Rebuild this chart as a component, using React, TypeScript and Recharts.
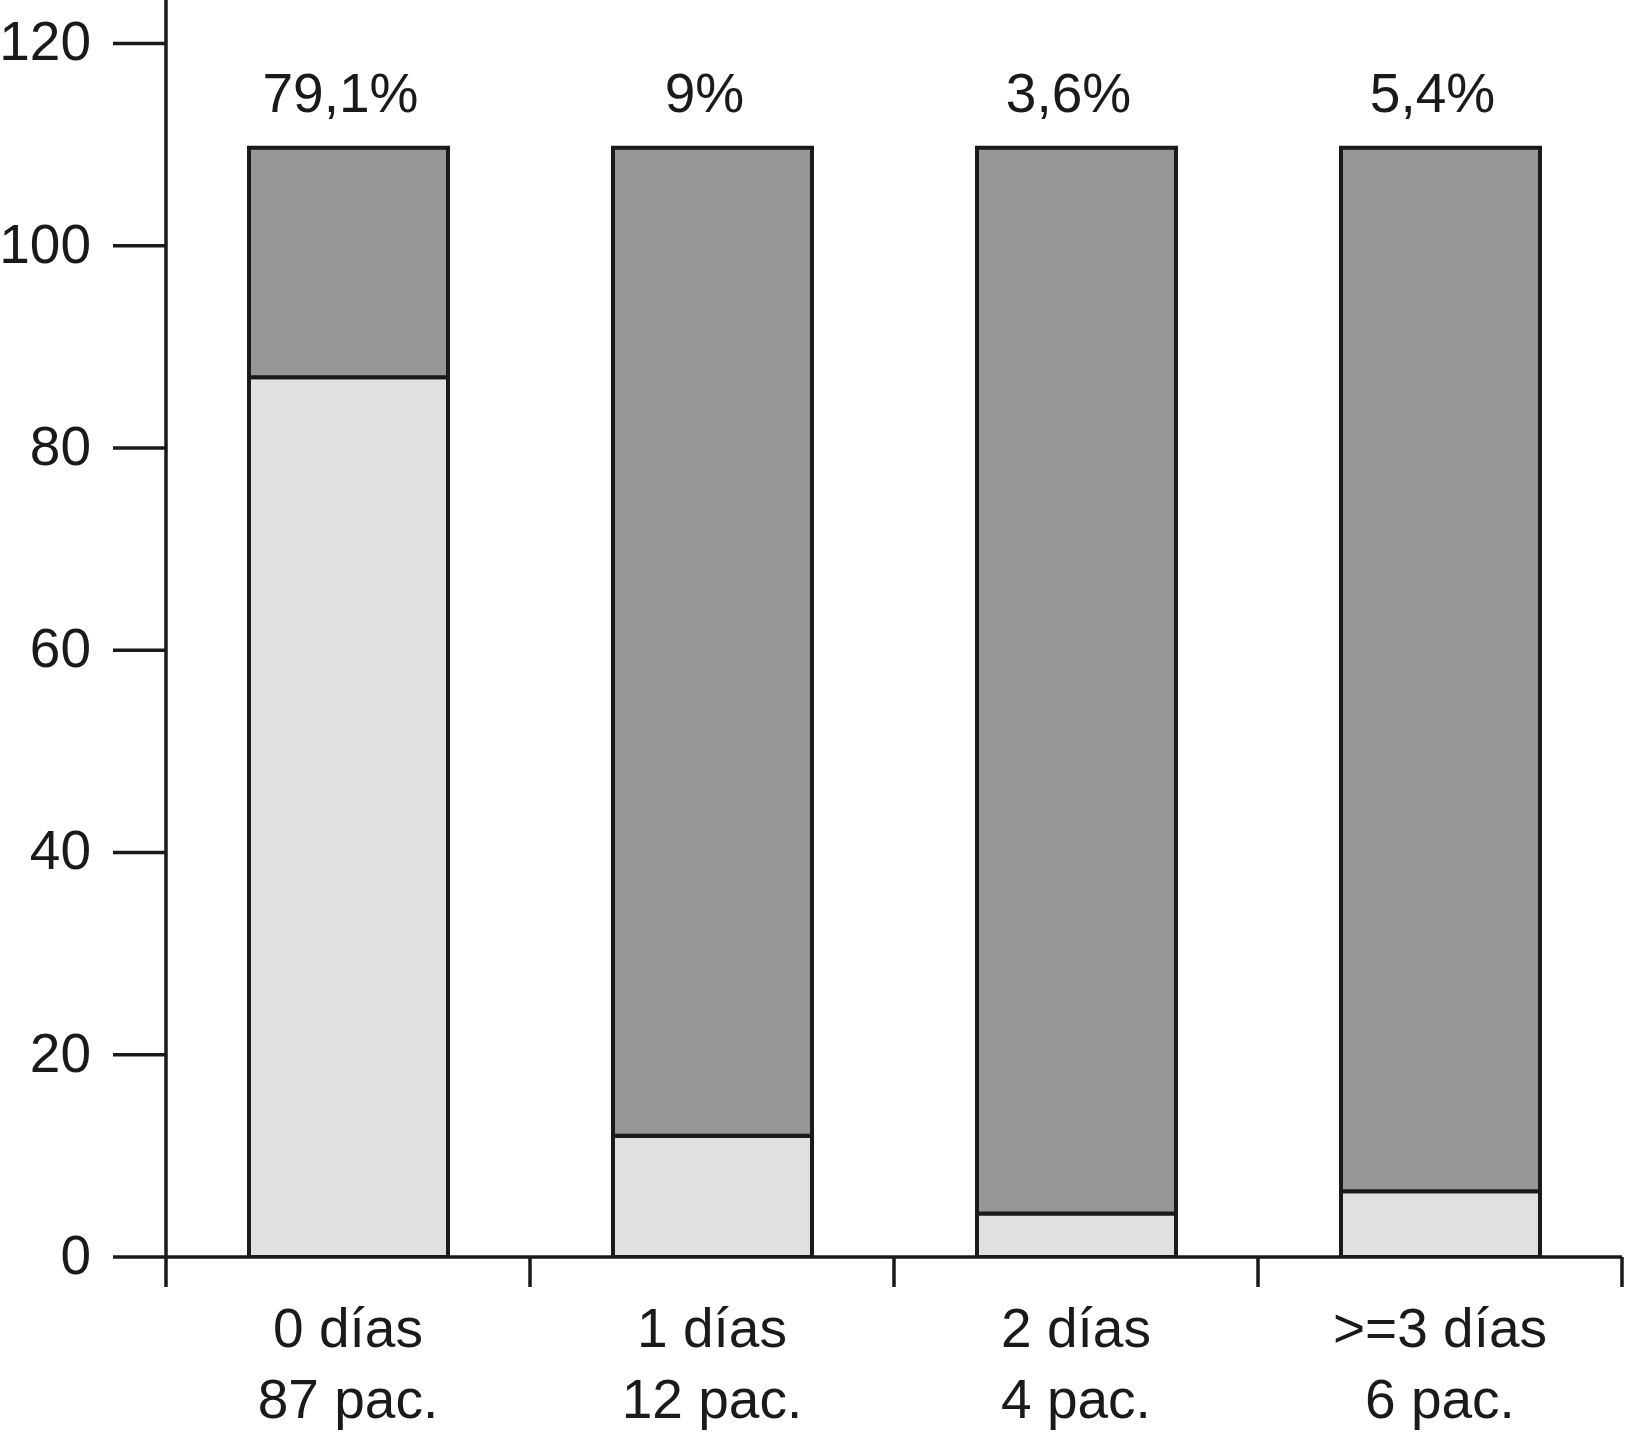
import React from 'react';
import { BarChart, Bar, XAxis, YAxis, LabelList } from 'recharts';

const categories = ['0 días', '1 días', '2 días', '>=3 días'];
const patientLabels = ['87 pac.', '12 pac.', '4 pac.', '6 pac.'];
const percentLabels = ['79,1%', '9%', '3,6%', '5,4%'];
const lightValues = [87, 12, 4.3, 6.5];
const darkValues = [22.7, 97.7, 105.4, 103.2];
const yTicks = [0, 20, 40, 60, 80, 100, 120];

const data = categories.map((name, i) => ({
  name,
  light: lightValues[i],
  dark: darkValues[i],
}));

const WIDTH = 1625;
const HEIGHT = 1435;
const Y_AXIS_WIDTH = 166;
const RIGHT_MARGIN = 3;
const BAND = (WIDTH - Y_AXIS_WIDTH - RIGHT_MARGIN) / categories.length;
const INK = '#1a1a1a';
const FONT = '"Liberation Sans", Arial, sans-serif';

const XTick = (props: any) => {
  const { x, y, payload } = props;
  const i = categories.indexOf(payload.value);
  const left = x - BAND / 2;
  return (
    <g>
      <line x1={left} y1={y} x2={left} y2={y + 30} stroke={INK} strokeWidth={3.5} />
      {i === categories.length - 1 && (
        <line x1={left + BAND} y1={y} x2={left + BAND} y2={y + 30} stroke={INK} strokeWidth={3.5} />
      )}
      <text x={x} y={y + 90} textAnchor="middle" fontSize={55} fill={INK} fontFamily={FONT}>
        {payload.value}
      </text>
      <text x={x} y={y + 161} textAnchor="middle" fontSize={55} fill={INK} fontFamily={FONT}>
        {patientLabels[i]}
      </text>
    </g>
  );
};

const YTick = (props: any) => {
  const { x, y, payload } = props;
  return (
    <text x={x} y={y} dy={17} textAnchor="end" fontSize={55} fill={INK} fontFamily={FONT}>
      {payload.value}
    </text>
  );
};

const PercentLabel = (props: any) => {
  const { x, y, width, index } = props;
  return (
    <text x={x + width / 2 - 8} y={y - 36} textAnchor="middle" fontSize={55} fill={INK} fontFamily={FONT}>
      {percentLabels[index]}
    </text>
  );
};

export default function App() {
  return (
    <div style={{ position: 'absolute', left: 0, top: 0, background: '#fff' }}>
      <BarChart
        width={WIDTH}
        height={HEIGHT}
        data={data}
        margin={{ top: 0, right: RIGHT_MARGIN, left: 0, bottom: 0 }}
      >
        <XAxis
          dataKey="name"
          height={HEIGHT - 1257}
          tickSize={0}
          tickMargin={0}
          tickLine={false}
          axisLine={{ stroke: INK, strokeWidth: 3.5 }}
          tick={<XTick />}
          interval={0}
        />
        <YAxis
          width={Y_AXIS_WIDTH}
          domain={[0, 124.3]}
          ticks={yTicks}
          tickSize={53}
          tickMargin={22}
          tickLine={{ stroke: INK, strokeWidth: 3.5 }}
          axisLine={{ stroke: INK, strokeWidth: 3.5 }}
          tick={<YTick />}
          allowDataOverflow
        />
        <Bar dataKey="light" stackId="a" fill="#e0e0e0" stroke={INK} strokeWidth={4} barSize={199} isAnimationActive={false} />
        <Bar dataKey="dark" stackId="a" fill="#969696" stroke={INK} strokeWidth={4} barSize={199} isAnimationActive={false}>
          <LabelList dataKey="dark" content={<PercentLabel />} />
        </Bar>
      </BarChart>
    </div>
  );
}
